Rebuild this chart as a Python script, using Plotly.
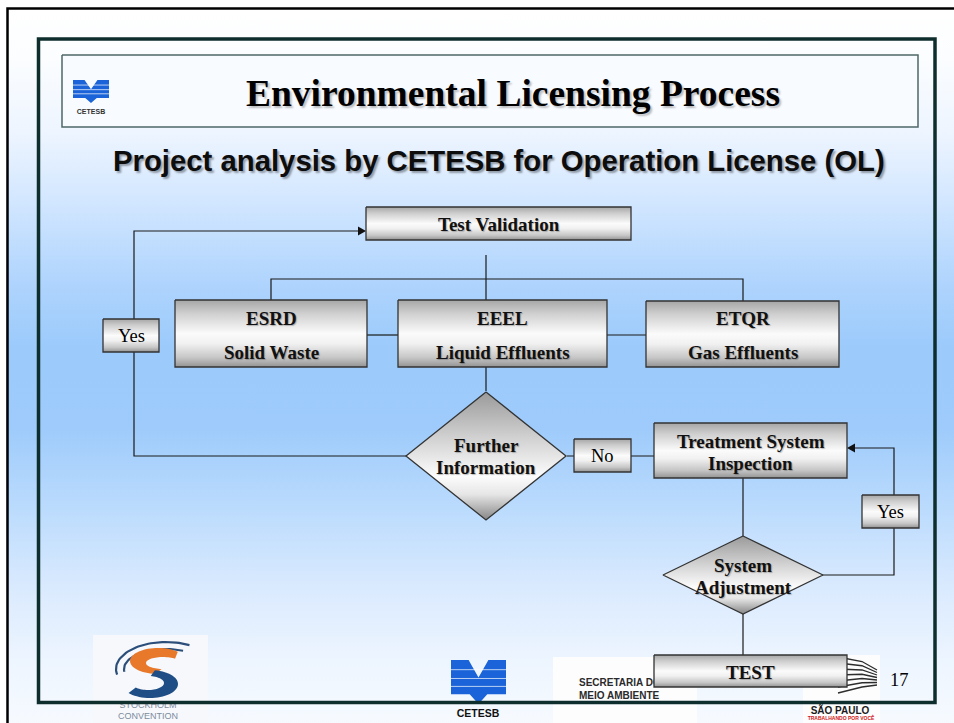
import math
import plotly.graph_objects as go

W, H = 954, 723

# ---------------- content ----------------
title_text = "Environmental Licensing Process"
subtitle_text = "Project analysis by CETESB for Operation License (OL)"

# rectangular process boxes: label lines, box extents
box_names = ["Test Validation", "ESRD", "EEEL", "ETQR", "Treatment System", "TEST"]
box_lines = [["Test Validation"], ["ESRD", "Solid Waste"], ["EEEL", "Liquid Effluents"],
             ["ETQR", "Gas Effluents"], ["Treatment System", "Inspection"], ["TEST"]]
box_x0 = [366, 175, 398, 646, 654, 654]
box_x1 = [631, 367, 607, 839, 847, 847]
box_y0 = [207, 300, 300, 301, 423, 655]
box_y1 = [240, 367, 367, 367, 478, 687]
box_text_y = [[224], [318, 352], [318, 352], [318, 352], [441, 463], [672]]

# decision diamonds
dia_lines = [["Further", "Information"], ["System", "Adjustment"]]
dia_cx = [486, 743]
dia_cy = [456, 575]
dia_hw = [80, 80]
dia_hh = [64, 39]
dia_text_y = [[445, 467], [565, 587]]

# small answer labels
tag_labels = ["Yes", "No", "Yes"]
tag_x0 = [103, 574, 862]
tag_x1 = [159, 631, 919]
tag_y0 = [319, 439, 495]
tag_y1 = [352, 472, 528]

# connector polylines
conn_x = [[407, 134, 134, 359], [486, 486], [271, 271, 743, 743], [367, 398], [607, 646],
          [486, 486], [567, 654], [743, 743], [822, 894, 894, 854], [743, 743]]
conn_y = [[456, 456, 231, 231], [255, 300], [300, 279, 279, 301], [335, 335], [335, 335],
          [367, 391], [456, 456], [478, 536], [575, 575, 448, 448], [614, 655]]
# arrow heads: tip x, y, direction
arrow_tip = [(366, 231, 1), (847, 448, -1)]

page_number = "17"

# ---------------- helpers ----------------
fig = go.Figure()

BG_SCALE = [[0.0, "#ffffff"], [0.07, "#fbfdff"], [0.17, "#eef5ff"], [0.27, "#d1e6ff"],
            [0.38, "#afd4fd"], [0.47, "#9bcafb"], [0.58, "#9ecbfb"], [0.69, "#bbdbfd"],
            [0.80, "#daeafe"], [0.90, "#edf5ff"], [1.0, "#f8fbff"]]
BOX_SCALE = [[0.0, "#a6a6a6"], [0.2, "#cfcfcf"], [0.5, "#fbfbfb"], [0.65, "#f1f1f1"],
             [0.86, "#c6c6c6"], [1.0, "#939393"]]
DIA_SCALE = [[0.0, "#9a9a9a"], [0.35, "#d0d0d0"], [0.66, "#fcfcfc"], [0.8, "#e6e6e6"], [1.0, "#868686"]]


def poly(xs, ys, color=None, scale=None, ytop=None, ybot=None, lc=None, lw=0):
    kw = dict(x=xs, y=ys, fill="toself", hoverinfo="skip", showlegend=False)
    if lw > 0:
        kw["mode"] = "lines"
        kw["line"] = dict(color=lc, width=lw)
    else:
        kw["mode"] = "none"
    if scale is not None:
        kw["fillgradient"] = dict(type="vertical", colorscale=scale, start=ytop, stop=ybot)
    else:
        kw["fillcolor"] = color
    fig.add_trace(go.Scatter(**kw))


def rect(x0, y0, x1, y1, **kw):
    poly([x0, x1, x1, x0, x0], [y0, y0, y1, y1, y0], ytop=y0, ybot=y1, **kw)


def line(xs, ys, color="#1a1a1a", width=1.2):
    fig.add_trace(go.Scatter(x=xs, y=ys, mode="lines", line=dict(color=color, width=width),
                             hoverinfo="skip", showlegend=False))


def text_trace(x, y, s, size, color, family="Liberation Sans", bold=True, pos="middle center"):
    fig.add_trace(go.Scatter(x=[x], y=[y], mode="text", text=[s], textposition=pos,
                             textfont=dict(family=family, size=size, color=color,
                                           weight="bold" if bold else "normal"),
                             hoverinfo="skip", showlegend=False))


def cetesb_logo(x0, y0, w, h):
    ux = [0, 0.32, 0.5, 0.68, 1, 1, 0.66, 0.5, 0.34, 0, 0]
    uy = [0, 0, 0.4, 0, 0, 0.78, 0.78, 1.0, 0.78, 0.78, 0]
    poly([x0 + u * w for u in ux], [y0 + v * h for v in uy], color="#1a63d8")
    for f in (0.22, 0.42, 0.6):
        line([x0, x0 + w], [y0 + f * h, y0 + f * h], color="rgba(255,255,255,0.7)", width=1)


def arc(cx, cy, rx, ry, a0, a1, n=40):
    xs, ys = [], []
    for i in range(n + 1):
        t = math.radians(a0 + (a1 - a0) * i / n)
        xs.append(cx + rx * math.cos(t))
        ys.append(cy + ry * math.sin(t))
    return xs, ys


def crescent(outer, inner, color):
    ox, oy = arc(*outer)
    ix, iy = arc(*inner)
    poly(ox + ix, oy + iy, color=color)


# ---------------- background ----------------
rect(6, 8, W + 10, H + 10, scale=BG_SCALE)

# header box
rect(62, 55, 918, 127, color="#f8fbff", lc="#4d6868", lw=1.5)
cetesb_logo(73, 80, 36, 23)
text_trace(91, 112, "CETESB", 7, "#333333")

# ---------------- footer logos ----------------
# Stockholm Convention
rect(93, 635, 208, H + 5, color="#f7f8fb")
for (cx, cy, rx, ry, a0, a1) in [(166, 669, 50, 27, -62, -192), (166, 669, 42, 20, -66, -188)]:
    ax, ay = arc(cx, cy, rx, ry, a0, a1)
    line(ax, ay, color="#2b4f7a", width=2.2)
crescent((158, 661, 28, 13, -45, -265), (163, 663, 17, 6, -265, -45), "#e8792b")
crescent((150, 684, 28, 14, -80, 140), (148, 683, 16, 7, 140, -80), "#1f4e86")
text_trace(148, 705.5, "STOCKHOLM", 9, "#7c8c9e", bold=False)
text_trace(148, 716.5, "CONVENTION", 9, "#7c8c9e", bold=False)

# CETESB footer
cetesb_logo(451, 660, 55, 44)
text_trace(478, 714, "CETESB", 10.5, "#111111")

# Secretaria / São Paulo
rect(553, 657, 697, H + 5, color="#fdfdfe")
rect(803, 655, 880, H + 5, color="#fdfdfe")
text_trace(579, 683, "SECRETARIA DO", 10, "#2a2a2a", pos="middle right")
text_trace(579, 696, "MEIO AMBIENTE", 10, "#2a2a2a", pos="middle right")
for i in range(7):
    ys0 = 657 + 6 * i
    ye = 670 + 2.5 * i
    line([838, 862, 877], [ys0, (ys0 + ye) / 2 - 2, ye], color="#2d2d2d", width=1.3)
text_trace(840, 711, "SÃO PAULO", 10, "#1a1a1a")
text_trace(841, 719, "TRABALHANDO POR VOCÊ", 5, "#d01818")

# ---------------- connectors ----------------
for xs, ys in zip(conn_x, conn_y):
    line(xs, ys)
for (tx, ty, d) in arrow_tip:
    poly([tx, tx - 8 * d, tx - 8 * d, tx], [ty, ty - 4.5, ty + 4.5, ty], color="#111111")

# ---------------- nodes ----------------
for x0, x1, y0, y1 in zip(box_x0, box_x1, box_y0, box_y1):
    rect(x0, y0, x1, y1, scale=BOX_SCALE, lc="#333333", lw=1.3)
for cx, cy, hw, hh in zip(dia_cx, dia_cy, dia_hw, dia_hh):
    poly([cx, cx + hw, cx, cx - hw, cx], [cy - hh, cy, cy + hh, cy, cy - hh],
         scale=DIA_SCALE, ytop=cy - hh, ybot=cy + hh, lc="#333333", lw=1.3)
for x0, x1, y0, y1 in zip(tag_x0, tag_x1, tag_y0, tag_y1):
    rect(x0, y0, x1, y1, scale=BOX_SCALE, lc="#333333", lw=1.3)

# ---------------- text ----------------
ann = []
serif = "Liberation Serif, Times New Roman, serif"
sans = "Liberation Sans, Arial, sans-serif"


def label(x, y, s, size, family=serif, weight="bold", shadow="none", color="#000000"):
    ann.append(dict(x=x, y=y, xref="x", yref="y", text=s, showarrow=False,
                    xanchor="center", yanchor="middle",
                    font=dict(family=family, size=size, color=color, weight=weight, shadow=shadow)))


label(513, 93, title_text, 37.5, shadow="2px 2px 2px rgba(0,0,0,0.25)")
label(499, 160, subtitle_text, 29.3, family=sans, shadow="2px 2px 2px rgba(0,0,0,0.35)", color="#0d0d0d")

box_shadow = "1px 1px 1px rgba(0,0,0,0.25)"
for lines_, x0, x1, ys in zip(box_lines, box_x0, box_x1, box_text_y):
    for s, y in zip(lines_, ys):
        label((x0 + x1) / 2, y, s, 19, shadow=box_shadow, color="#111111")
for lines_, cx, ys in zip(dia_lines, dia_cx, dia_text_y):
    for s, y in zip(lines_, ys):
        label(cx, y, s, 19, shadow=box_shadow, color="#111111")
for s, x0, x1, y0, y1 in zip(tag_labels, tag_x0, tag_x1, tag_y0, tag_y1):
    label((x0 + x1) / 2, (y0 + y1) / 2, s, 18.5, weight="normal")
label(899, 680, page_number, 18.5, weight="normal")

# ---------------- frames (drawn above) ----------------
shapes = [
    dict(type="rect", xref="x", yref="y", x0=7.5, y0=8.5, x1=W + 20, y1=H + 20,
         line=dict(color="#000000", width=2.5), fillcolor="rgba(0,0,0,0)", layer="above"),
    dict(type="rect", xref="x", yref="y", x0=38.5, y0=39, x1=935, y1=702.5,
         line=dict(color="#0e2e2e", width=3.5), fillcolor="rgba(0,0,0,0)", layer="above"),
]

fig.update_layout(
    width=W, height=H,
    margin=dict(l=0, r=0, t=0, b=0),
    paper_bgcolor="#ffffff", plot_bgcolor="#ffffff",
    xaxis=dict(range=[0, W], visible=False, fixedrange=True),
    yaxis=dict(range=[H, 0], visible=False, fixedrange=True),
    showlegend=False,
    annotations=ann,
    shapes=shapes,
)

fig.write_html("out.html", config={"displayModeBar": False},
               post_script="document.body.style.margin='0';document.body.style.overflow='hidden';")
